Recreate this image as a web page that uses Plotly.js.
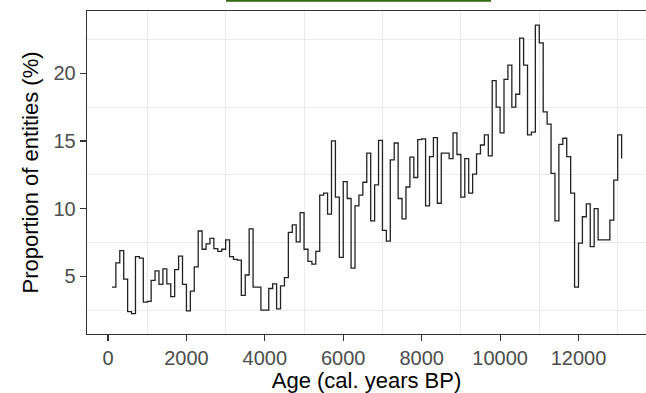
<!DOCTYPE html>
<html>
<head>
<meta charset="utf-8">
<script src="https://cdn.plot.ly/plotly-3.0.1.min.js"></script>
<style>
  html, body { margin: 0; padding: 0; background: #ffffff; }
  #chart { width: 646px; height: 393px; }
</style>
</head>
<body>
<div id="chart"></div>
<script>
// Age bins (cal. years BP)
const ages = [
  100, 200, 300, 400, 500, 600, 700, 800, 900, 1000,
  1100, 1200, 1300, 1400, 1500, 1600, 1700, 1800, 1900, 2000,
  2100, 2200, 2300, 2400, 2500, 2600, 2700, 2800, 2900, 3000,
  3100, 3200, 3300, 3400, 3500, 3600, 3700, 3800, 3900, 4000,
  4100, 4200, 4300, 4400, 4500, 4600, 4700, 4800, 4900, 5000,
  5100, 5200, 5300, 5400, 5500, 5600, 5700, 5800, 5900, 6000,
  6100, 6200, 6300, 6400, 6500, 6600, 6700, 6800, 6900, 7000,
  7100, 7200, 7300, 7400, 7500, 7600, 7700, 7800, 7900, 8000,
  8100, 8200, 8300, 8400, 8500, 8600, 8700, 8800, 8900, 9000,
  9100, 9200, 9300, 9400, 9500, 9600, 9700, 9800, 9900, 10000,
  10100, 10200, 10300, 10400, 10500, 10600, 10700, 10800, 10900, 11000,
  11100, 11200, 11300, 11400, 11500, 11600, 11700, 11800, 11900, 12000,
  12100, 12200, 12300, 12400, 12500, 12600, 12700, 12800, 12900, 13000,
  13100
];

// Proportion of entities (%)
const proportion = [
  4.2, 6.0, 6.9, 4.8, 2.4, 2.25, 6.45, 6.35, 3.1, 3.15,
  4.7, 5.4, 4.4, 5.55, 4.45, 3.5, 5.5, 6.5, 4.4, 2.45,
  3.9, 5.7, 8.35, 7.0, 7.4, 7.8, 7.05, 6.85, 7.0, 7.7,
  6.45, 6.25, 6.2, 3.6, 5.1, 8.5, 4.2, 4.2, 2.5, 2.5,
  4.1, 4.45, 2.6, 4.3, 4.9, 8.25, 8.8, 7.55, 9.7, 7.0,
  6.1, 5.9, 6.85, 11.0, 11.15, 9.6, 15.0, 10.85, 6.4, 12.0,
  10.75, 5.6, 10.2, 11.0, 11.95, 14.1, 9.1, 11.75, 15.05, 8.4,
  7.6, 13.6, 14.85, 10.75, 9.25, 11.6, 13.8, 12.3, 15.1, 15.15,
  10.2, 13.85, 15.25, 10.4, 14.1, 14.1, 13.7, 15.6, 14.0, 10.85,
  13.7, 11.15, 12.55, 14.05, 14.7, 15.45, 13.9, 19.45, 17.5, 15.6,
  19.55, 20.6, 17.5, 18.45, 22.6, 20.6, 15.45, 15.65, 23.55, 22.25,
  17.15, 16.25, 12.6, 9.1, 14.75, 15.2, 13.85, 11.15, 4.2, 7.45,
  9.4, 10.35, 7.2, 10.0, 7.7, 7.7, 7.7, 9.15, 12.1, 15.45,
  13.7
];

const xTickVals = [0, 2000, 4000, 6000, 8000, 10000, 12000];
const xTickText = ["0", "2000", "4000", "6000", "8000", "10000", "12000"];
const xGridVals = [1000, 3000, 5000, 7000, 9000, 11000, 13000];
const yTickVals = [5, 10, 15, 20];
const yTickText = ["5", "10", "15", "20"];
const yGridVals = [2.5, 7.5, 12.5, 17.5, 22.5];

const trace = {
  type: "scatter",
  mode: "lines",
  x: ages,
  y: proportion,
  line: { shape: "hv", color: "#222222", width: 1.3 },
  hoverinfo: "x+y"
};

const fontFam = "Liberation Sans, Arial, Helvetica, sans-serif";

const layout = {
  width: 646,
  height: 393,
  margin: { l: 87, r: 0, t: 11, b: 59 },
  paper_bgcolor: "#ffffff",
  plot_bgcolor: "#ffffff",
  showlegend: false,
  font: { family: fontFam },
  xaxis: {
    range: [-536, 13722],
    tickmode: "array",
    tickvals: xTickVals,
    ticktext: xTickText,
    showgrid: false,
    zeroline: false,
    showline: true,
    linecolor: "#333333",
    linewidth: 1.3,
    mirror: true,
    ticks: "outside",
    ticklen: 6,
    tickwidth: 1.1,
    tickcolor: "#333333",
    tickfont: { family: fontFam, size: 20, color: "#4d4d4d" },
    minor: {
      tickmode: "array",
      tickvals: xGridVals,
      showgrid: true,
      gridcolor: "#ebebeb",
      gridwidth: 1,
      ticks: ""
    },
    title: { text: "Age (cal. years BP)", font: { family: fontFam, size: 22, color: "#000000" }, standoff: 6 }
  },
  yaxis: {
    range: [0.74, 24.6],
    tickmode: "array",
    tickvals: yTickVals,
    ticktext: yTickText,
    showgrid: false,
    zeroline: false,
    showline: true,
    linecolor: "#333333",
    linewidth: 1.3,
    ticks: "outside",
    ticklen: 6,
    tickwidth: 1.1,
    tickcolor: "#333333",
    tickfont: { family: fontFam, size: 20, color: "#4d4d4d" },
    minor: {
      tickmode: "array",
      tickvals: yGridVals,
      showgrid: true,
      gridcolor: "#ebebeb",
      gridwidth: 1,
      ticks: ""
    },
    title: { text: "Proportion of entities (%)", font: { family: fontFam, size: 22, color: "#000000" }, standoff: 8 }
  },
  shapes: [
    {
      type: "rect", xref: "paper", yref: "paper",
      x0: 0.2487, x1: 0.7227, y0: 1.029, y1: 1.05,
      fillcolor: "#2e6b12", line: { width: 0 }, layer: "above"
    }
  ]
};

Plotly.newPlot("chart", [trace], layout, { displayModeBar: false, staticPlot: true });
</script>
</body>
</html>
